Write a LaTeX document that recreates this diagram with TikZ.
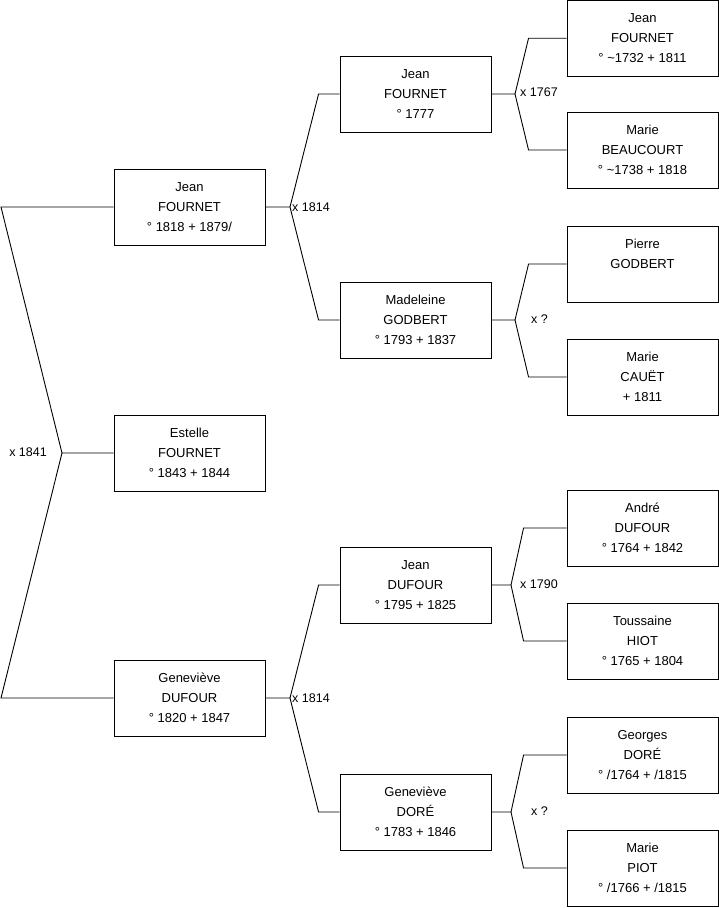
\documentclass[tikz,border=0pt]{standalone}
\usepackage{fontspec}
\setmainfont{Liberation Sans}
\usetikzlibrary{calc}
\begin{document}
\begin{tikzpicture}[x=1pt,y=-1pt,
  pbox/.style={draw=black, line width=0.9pt, minimum width=151pt, minimum height=76pt,
    inner sep=0pt, align=center, font=\fontsize{13}{20}\selectfont},
  link/.style={draw=black, line width=0.9pt},
  lbl/.style={font=\fontsize{12.5}{15}\selectfont, inner sep=0pt}]
\useasboundingbox (0,0) rectangle (719,908);
% column 1
\node[pbox] (a1) at (189.5,207) {Jean\\FOURNET\\° 1818 + 1879/};
\node[pbox] (a2) at (189.5,453) {Estelle\\FOURNET\\° 1843 + 1844};
\node[pbox] (a3) at (189.5,698) {Geneviève\\DUFOUR\\° 1820 + 1847};
% column 2
\node[pbox] (b1) at (415.5,94) {Jean\\FOURNET\\° 1777};
\node[pbox] (b2) at (415.5,320) {Madeleine\\GODBERT\\° 1793 + 1837};
\node[pbox] (b3) at (415.5,585) {Jean\\DUFOUR\\° 1795 + 1825};
\node[pbox] (b4) at (415.5,812) {Geneviève\\DORÉ\\° 1783 + 1846};
% column 3
\node[pbox] (c1) at (642.5,38.2) {Jean\\FOURNET\\° \textasciitilde1732 + 1811};
\node[pbox] (c2) at (642.5,150) {Marie\\BEAUCOURT\\° \textasciitilde1738 + 1818};
\node[pbox] (c3) at (642.5,264) {Pierre\\GODBERT\\\mbox{}};
\node[pbox] (c4) at (642.5,377) {Marie\\CAUËT\\+ 1811};
\node[pbox] (c5) at (642.5,528) {André\\DUFOUR\\° 1764 + 1842};
\node[pbox] (c6) at (642.5,641) {Toussaine\\HIOT\\° 1765 + 1804};
\node[pbox] (c7) at (642.5,755) {Georges\\DORÉ\\° /1764 + /1815};
\node[pbox] (c8) at (642.5,868) {Marie\\PIOT\\° /1766 + /1815};
% vertices
\coordinate (v0) at (62,453);
\coordinate (t0) at (1,207);
\coordinate (u0) at (1,698);
\coordinate (v1) at (290,207);
\coordinate (v2) at (290,698);
\coordinate (v3) at (515,94);
\coordinate (v4) at (515,320);
\coordinate (v5) at (511,585);
\coordinate (v6) at (511,812);
% left bracket
\draw[link] (a1.west) -- (t0) -- (v0) -- (a2.west);
\draw[link] (a3.west) -- (u0) -- (v0);
\node[lbl, anchor=east] at (47,452) {x 1841};
% column 1 -> 2
\draw[link] (a1.east) -- (v1) -- ($(b1.west)+(-21,0)$) -- (b1.west);
\draw[link] (v1) -- ($(b2.west)+(-21,0)$) -- (b2.west);
\node[lbl, anchor=west] at (292,207) {x 1814};
\draw[link] (a3.east) -- (v2) -- ($(b3.west)+(-21,0)$) -- (b3.west);
\draw[link] (v2) -- ($(b4.west)+(-21,0)$) -- (b4.west);
\node[lbl, anchor=west] at (292,698) {x 1814};
% column 2 -> 3
\draw[link] (b1.east) -- (v3) -- ($(c1.west)+(-38,0)$) -- (c1.west);
\draw[link] (v3) -- ($(c2.west)+(-38,0)$) -- (c2.west);
\node[lbl, anchor=west] at (520,92) {x 1767};
\draw[link] (b2.east) -- (v4) -- ($(c3.west)+(-38,0)$) -- (c3.west);
\draw[link] (v4) -- ($(c4.west)+(-38,0)$) -- (c4.west);
\node[lbl, anchor=west] at (531,319) {x ?};
\draw[link] (b3.east) -- (v5) -- ($(c5.west)+(-43,0)$) -- (c5.west);
\draw[link] (v5) -- ($(c6.west)+(-43,0)$) -- (c6.west);
\node[lbl, anchor=west] at (520,584) {x 1790};
\draw[link] (b4.east) -- (v6) -- ($(c7.west)+(-43,0)$) -- (c7.west);
\draw[link] (v6) -- ($(c8.west)+(-43,0)$) -- (c8.west);
\node[lbl, anchor=west] at (531,811) {x ?};
\end{tikzpicture}
\end{document}
